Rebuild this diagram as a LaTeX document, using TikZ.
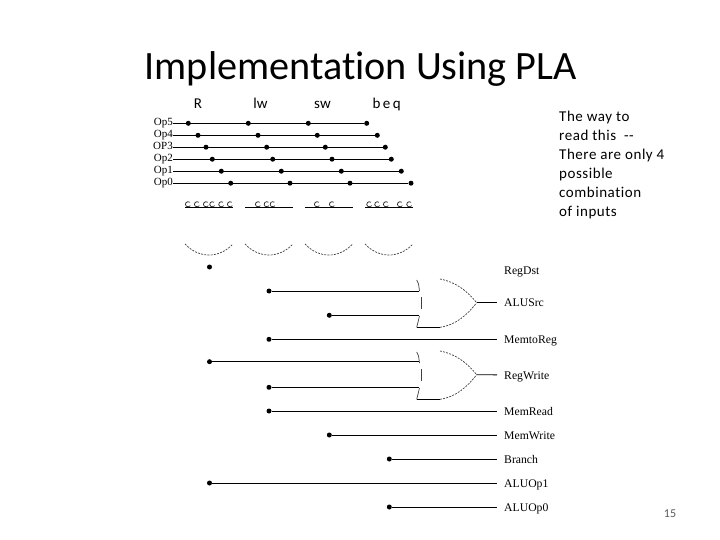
\documentclass[tikz,border=0pt]{standalone}
\usepackage{fontspec}
\usepackage{xcolor}
\setmainfont[Ligatures=NoCommon]{Carlito}
\newfontfamily\notefont[LetterSpace=3.6,Ligatures=NoCommon]{Carlito}
\newfontfamily\plafont{Liberation Serif}
\usetikzlibrary{positioning, calc}
\definecolor{pagegray}{RGB}{89, 89, 89}

\begin{document}
\begin{tikzpicture}[x=1pt, y=-1pt]
    \tikzstyle{heading} = [inner sep=0pt, font=\fontsize{40.2}{42}\selectfont]
    \tikzstyle{opname} = [inner sep=0pt, anchor=east, text height=7pt, text depth=2pt, font=\plafont\fontsize{11}{12}\selectfont]
    \tikzstyle{outname} = [inner xsep=7pt, inner ysep=0pt, anchor=west, text height=9pt, text depth=1pt, font=\plafont\fontsize{11.7}{12}\selectfont]
    \tikzstyle{instr} = [inner sep=0pt, text height=11pt, text depth=3pt, font=\fontsize{15}{16}\selectfont]
    \tikzstyle{note} = [inner sep=0pt, anchor=base west, font=\notefont\fontsize{15}{16}\selectfont]
    \tikzstyle{pin} = [circle, fill=black, inner sep=0pt, minimum size=5pt]
    \tikzstyle{wire} = [line width=0.9pt]
    \tikzstyle{faint} = [line width=0.7pt, black!75, dash pattern=on 2pt off 1.2pt]

    \useasboundingbox (0,0) rectangle (720,540);

    \node[heading, anchor=base west] (title) at (144.5,79.5) {Implementation Using PLA};

    % instruction names
    \node[instr] (nameR) at (198,105) {R};
    \node[instr] (namelw) at (260.5,105) {lw};
    \node[instr] (namesw) at (322.5,105) {sw};
    \node[instr] (namebeq) at (386.7,105) {b\,e\,q};

    % input lines with their dots
    \foreach \op/\lbl/\yy/\xa/\xb/\xc/\xd in {
        a/Op5/123.3/188.3/248.3/308.3/366.7,
        b/Op4/135.3/198/258/317.3/377.3,
        c/OP3/147.2/206/266.7/325.3/385.3,
        d/Op2/159.2/212.3/272.7/332/391.3,
        e/Op1/171.2/221.3/281.3/341.3/401.3,
        f/Op0/183.2/230.7/290/350/411} {
        \node[opname] (\op) at (173,\yy) {\lbl};
        \node[pin] (\op1) at (\xa,\yy) {};
        \node[pin] (\op2) at (\xb,\yy) {};
        \node[pin] (\op3) at (\xc,\yy) {};
        \node[pin] (\op4) at (\xd,\yy) {};
        \draw[wire] (\op) -- (\op4);
    }

    % and planes
    \foreach \gt/\xl/\xr in {p/185/233, q/245/293, r/305/352.7, s/365/413} {
        \coordinate (\gt l) at (\xl,207.3);
        \coordinate (\gt r) at (\xr,207.3);
        \draw[wire] (\gt l) -- (\gt r);
        \draw[faint] (\xl,244) .. controls (\xl+14,258.7) and (\xr-14,258.7) .. (\xr,244);
    }
    \foreach \cx in {188,197,206,212.3,221.3,230,258,266.7,272.7,317,332,369.3,377.3,386,400,409.3} {
        \draw[line width=0.7pt, black!85] (\cx+1.7,202.3) arc (50:330:2.6pt);
    }

    % output names
    \node[outname] (regdst) at (497,270.5) {RegDst};
    \node[outname] (alusrc) at (497,302.7) {ALUSrc};
    \node[outname] (memtoreg) at (497,339.3) {MemtoReg};
    \node[outname] (regwrite) at (497,375) {RegWrite};
    \node[outname] (memread) at (497,411) {MemRead};
    \node[outname] (memwrite) at (497,435) {MemWrite};
    \node[outname] (branch) at (497,459) {Branch};
    \node[outname] (aluop1) at (497,483) {ALUOp1};
    \node[outname] (aluop0) at (497,507) {ALUOp0};

    % or gates
    \foreach \gt/\off in {u/0, v/72} {
        \coordinate (\gt in1) at (419,291+\off);
        \coordinate (\gt in2) at (419,315.3+\off);
        \coordinate (\gt tip) at (476.7,302.7+\off);
        \draw[line width=0.7pt, black!75] (416.7,280+\off) .. controls (418.5,283+\off) .. (419.5,291+\off);
        \draw[line width=0.7pt, black!75] (421.6,297+\off) -- (421.6,309+\off);
        \draw[line width=0.7pt, black!75] (419.5,316+\off) .. controls (418.5,321+\off) .. (416.7,327.3+\off);
        \draw[wire] (416.7,327.3+\off) -- (440,327.3+\off);
        \draw[faint] (440,327.3+\off) .. controls (456,325+\off) and (467,315+\off) .. (\gt tip);
        \draw[faint] (440,279+\off) .. controls (456,282+\off) and (467,291+\off) .. (\gt tip);
    }
    \draw[wire] (utip) -- (alusrc);
    \draw[wire] (vtip) -- (regwrite);

    % product terms
    \node[pin] (t1) at (209.5,267) {};
    \node[pin] (t2) at (269,291) {};
    \node[pin] (t3) at (329.3,315.3) {};
    \node[pin] (t4) at (269,339.3) {};
    \node[pin] (t5) at (209.5,361.7) {};
    \node[pin] (t6) at (269,387.3) {};
    \node[pin] (t7) at (269,411) {};
    \node[pin] (t8) at (329.3,435) {};
    \node[pin] (t9) at (389.3,459) {};
    \node[pin] (t10) at (209.5,483) {};
    \node[pin] (t11) at (389.3,507) {};

    \draw[wire] (t2) -- (uin1);
    \draw[wire] (t3) -- (uin2);
    \draw[wire] (t4) -- (memtoreg);
    \draw[wire] (t5) -- (vin1 |- t5);
    \draw[wire] (t6) -- (vin1 |- t6);
    \draw[wire] (t7) -- (memread);
    \draw[wire] (t8) -- (memwrite);
    \draw[wire] (t9) -- (branch);
    \draw[wire] (t10) -- (aluop1);
    \draw[wire] (t11) -- (aluop0);

    % side note
    \foreach \nn/\yy/\txt in {
        na/121.7/The way to,
        nb/140.5/read this~~{-}{-},
        nc/159.3/There are only 4,
        nd/178.3/possible,
        ne/197.3/combination,
        nf/216.7/of inputs} {
        \node[note] (\nn) at (559,\yy) {\txt};
    }

    \node[inner sep=0pt, text=pagegray, font=\fontsize{12}{14}\selectfont] (pageno) at (670,514) {15};
\end{tikzpicture}
\end{document}
